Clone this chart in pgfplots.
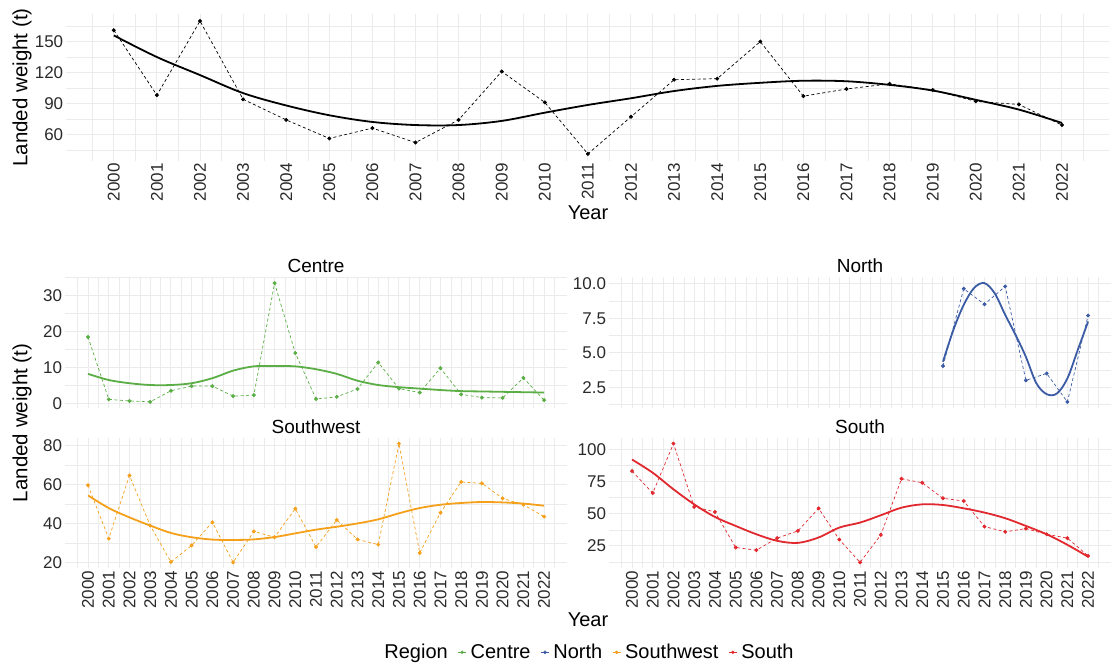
\documentclass[border=0pt]{standalone}
\usepackage{fontspec}
\setmainfont{Liberation Sans}
\usepackage{pgfplots}
\pgfplotsset{compat=1.18}

\definecolor{cCentre}{HTML}{5AAE45}
\definecolor{cNorth}{HTML}{3B5BA5}
\definecolor{cSW}{HTML}{F5A01A}
\definecolor{cSouth}{HTML}{E0282E}
\definecolor{gridc}{HTML}{EBEBEB}
\definecolor{tickc}{HTML}{2A2A2A}

\pgfplotsset{
  base/.style={
    scale only axis,
    xmin=1998.9, xmax=2023.1,
    axis line style={draw=none},
    major tick length=0pt, minor tick length=0pt,
    xtick={2000,2001,...,2022},
    minor xtick={1999.5,2000.5,...,2022.5},
    xmajorgrids, ymajorgrids, xminorgrids, yminorgrids,
    major grid style={gridc, line width=1pt},
    minor grid style={gridc, line width=0.5pt},
    scaled ticks=false,
    /pgf/number format/assume math mode=true,
    /pgf/number format/1000 sep={},
    tick label style={font=\fontsize{17}{20}\selectfont, text=tickc},
    xticklabel style={rotate=90, anchor=east, inner sep=2.5pt},
    yticklabel style={anchor=east, inner sep=3pt},
    title style={font=\fontsize{19}{22}\selectfont, at={(0.5,1)}, anchor=base, yshift=-1.5pt},
  },
  dline/.style={dash pattern=on 3pt off 2.5pt, line width=0.7pt, mark=*, mark size=1.6pt, mark options={solid}},
  sline/.style={line width=1.8pt, smooth, tension=0.55, no marks},
  mylegend/.style={legend image code/.code={\draw[##1,line width=0.8pt] (0pt,0pt)--(8pt,0pt); \fill[##1] (4pt,0pt) circle (1.5pt);}},
}

\begin{document}
\begin{tikzpicture}
\path[use as bounding box] (0pt,0pt) rectangle (1113pt,668pt);

% ---------------- top panel ----------------
\begin{axis}[base,
  at={(66.4pt,507.4pt)}, anchor=south west,
  width=1043pt, height=146.3pt,
  ymin=34.5, ymax=176.5,
  ytick={60,90,120,150},
  minor ytick={45,75,105,135,165},
  xlabel={Year},
  every axis x label/.style={at={(axis description cs:0.5001,-0.358)}, anchor=center, font=\fontsize{20}{24}\selectfont},
  ylabel={Landed weight (t)},
  every axis y label/.style={at={(axis description cs:-0.0426,0.5)}, rotate=90, anchor=center, font=\fontsize{20.5}{24}\selectfont},
]
\addplot[black, dline] coordinates {
(2000,161) (2001,98) (2002,170) (2003,94) (2004,74) (2005,56) (2006,66) (2007,52)
(2008,74) (2009,121) (2010,91) (2011,41) (2012,77) (2013,113) (2014,114) (2015,150)
(2016,97) (2017,104) (2018,109) (2019,103) (2020,92) (2021,89) (2022,69)};
\addplot[black, sline] coordinates {
(2000,156) (2001,135) (2002,117.5) (2003,100) (2004,88) (2005,78.5) (2006,72) (2007,69)
(2008,69) (2009,73) (2010,81) (2011,88.5) (2012,95) (2013,102) (2014,107) (2015,110)
(2016,112) (2017,111.5) (2018,108) (2019,102.5) (2020,93.5) (2021,84) (2022,71)};
\end{axis}

% ---------------- Centre ----------------
\begin{axis}[base,
  at={(65.2pt,260.2pt)}, anchor=south west,
  width=501.7pt, height=130.6pt,
  ymin=-1.25, ymax=35.15,
  ytick={0,10,20,30},
  minor ytick={5,15,25,35},
  xticklabels={},
  title={Centre},
  ylabel={Landed weight (t)},
  every axis y label/.style={at={(axis description cs:-0.0861,-0.115)}, rotate=90, anchor=center, font=\fontsize{20.5}{24}\selectfont},
]
\addplot[cCentre, dline] coordinates {
(2000,18.5) (2001,1.1) (2002,0.65) (2003,0.4) (2004,3.5) (2005,4.8) (2006,4.8) (2007,2.0)
(2008,2.3) (2009,33.5) (2010,14.0) (2011,1.2) (2012,1.8) (2013,4.0) (2014,11.4) (2015,4.1)
(2016,3.0) (2017,9.8) (2018,2.5) (2019,1.6) (2020,1.5) (2021,7.1) (2022,0.9)};
\addplot[cCentre, sline] coordinates {
(2000,8.2) (2001,6.5) (2002,5.6) (2003,5.1) (2004,5.1) (2005,5.6) (2006,7.0) (2007,9.1)
(2008,10.3) (2009,10.4) (2010,10.3) (2011,9.5) (2012,8.2) (2013,6.3) (2014,5.1) (2015,4.5)
(2016,4.1) (2017,3.7) (2018,3.4) (2019,3.3) (2020,3.2) (2021,3.1) (2022,3.0)};
\end{axis}

% ---------------- North ----------------
\begin{axis}[base,
  at={(609.2pt,260.2pt)}, anchor=south west,
  width=501.7pt, height=130.6pt,
  ymin=1.01, ymax=10.48,
  ytick={2.5,5,7.5,10},
  minor ytick={1.25,3.75,6.25,8.75},
  yticklabel style={/pgf/number format/.cd, fixed, fixed zerofill, precision=1},
  xticklabels={},
  title={North},
]
\addplot[cNorth, dline] coordinates {
(2015,4.04) (2016,9.64) (2017,8.52) (2018,9.81) (2019,3.0) (2020,3.5) (2021,1.44) (2022,7.7)};
\addplot[cNorth, sline] coordinates {
(2015,4.35) (2015.5,6.65) (2016,8.47) (2016.5,9.7) (2017,10.05) (2017.5,9.3) (2018,7.75)
(2018.5,6.3) (2019,4.7) (2019.5,2.8) (2020,2.0) (2020.5,2.05) (2021,3.14) (2021.5,5.2) (2022,7.26)};
\end{axis}

% ---------------- Southwest ----------------
\begin{axis}[base,
  at={(65.2pt,99.7pt)}, anchor=south west,
  width=501.7pt, height=130.6pt,
  ymin=16.95, ymax=84.05,
  ytick={20,40,60,80},
  minor ytick={30,50,70},
  title={Southwest},
]
\addplot[cSW, dline] coordinates {
(2000,59.6) (2001,32.2) (2002,64.6) (2003,38.9) (2004,20.2) (2005,28.7) (2006,40.6) (2007,20)
(2008,35.9) (2009,32.9) (2010,47.6) (2011,27.9) (2012,41.8) (2013,31.8) (2014,29.1) (2015,81)
(2016,24.8) (2017,45.5) (2018,61.3) (2019,60.6) (2020,52.9) (2021,49.6) (2022,43.5)};
\addplot[cSW, sline] coordinates {
(2000,54.4) (2001,47.9) (2002,43.1) (2003,38.9) (2004,35.1) (2005,32.9) (2006,31.7) (2007,31.5)
(2008,31.8) (2009,33) (2010,34.9) (2011,36.8) (2012,38.3) (2013,40) (2014,42.1) (2015,45.2)
(2016,47.9) (2017,49.6) (2018,50.5) (2019,51) (2020,50.8) (2021,50.2) (2022,49.1)};
\end{axis}

% ---------------- South ----------------
\begin{axis}[base,
  at={(609.2pt,99.7pt)}, anchor=south west,
  width=501.7pt, height=130.6pt,
  ymin=7.5, ymax=109.2,
  ytick={25,50,75,100},
  minor ytick={12.5,37.5,62.5,87.5},
  title={South},
  xlabel={Year},
  every axis x label/.style={at={(axis description cs:-0.0423,-0.396)}, anchor=center, font=\fontsize{20}{24}\selectfont},
  legend columns=-1,
  legend style={at={(axis description cs:-0.0423,-0.643)}, anchor=center, draw=none, fill=none,
    font=\fontsize{20}{24}\selectfont, inner sep=0pt,
    nodes={inner sep=2pt},
    /tikz/every odd column/.append style={column sep=2pt},
    /tikz/every even column/.append style={column sep=8pt}},
]
\addplot[cSouth, dline, forget plot] coordinates {
(2000,83.2) (2001,66.1) (2002,104.6) (2003,55.3) (2004,51.4) (2005,23.7) (2006,21.6) (2007,31)
(2008,36.6) (2009,54.2) (2010,29.9) (2011,12.1) (2012,33.5) (2013,77.2) (2014,74.1) (2015,62)
(2016,59.9) (2017,40) (2018,35.9) (2019,38.4) (2020,34) (2021,31) (2022,17.2)};
\addplot[cSouth, sline, forget plot] coordinates {
(2000,92.2) (2001,81.9) (2002,69) (2003,57.3) (2004,47.5) (2005,40.5) (2006,34) (2007,28.9)
(2008,27.3) (2009,31.5) (2010,39.2) (2011,43.1) (2012,48.8) (2013,54.7) (2014,57.3) (2015,56.8)
(2016,54.2) (2017,50.9) (2018,46.5) (2019,40.5) (2020,34) (2021,25.8) (2022,16.5)};
\addlegendimage{empty legend}
\addlegendentry{Region}
\addlegendimage{cCentre, mylegend}
\addlegendentry{Centre}
\addlegendimage{cNorth, mylegend}
\addlegendentry{North}
\addlegendimage{cSW, mylegend}
\addlegendentry{Southwest}
\addlegendimage{cSouth, mylegend}
\addlegendentry{South}
\end{axis}
\end{tikzpicture}
\end{document}
